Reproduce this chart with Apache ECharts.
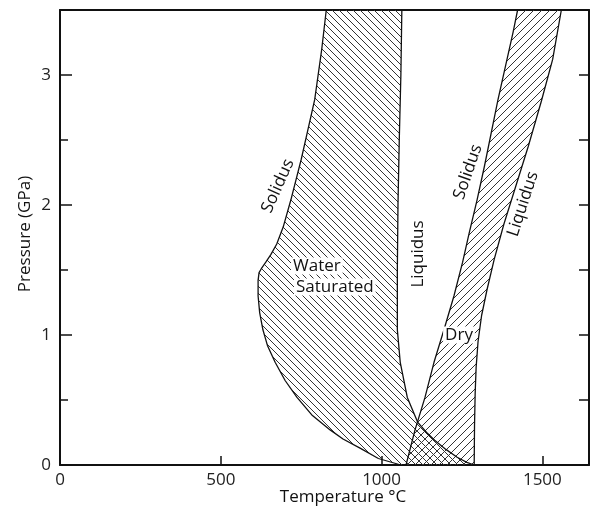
<!DOCTYPE html>
<html><head><meta charset="utf-8">
<script src="https://cdn.jsdelivr.net/npm/echarts@6/dist/echarts.min.js"></script>
<style>html,body{margin:0;padding:0;background:#fff}#c{width:594px;height:514px}</style>
</head><body><div id="c"></div><script>
// Tick values
const xTicks = [0, 500, 1000, 1500];
const yTicks = [0, 1, 2, 3];
// Curves as [Temperature °C, Pressure GPa]
const wetSolidus = [[1060,0],[990,0.05],[933,0.13],[880,0.2],[840,0.27],[785,0.38],[737,0.52],[700,0.65],[669,0.79],[645,0.92],[631,1.04],[621,1.17],[616,1.3],[616,1.42],[619,1.48],[626,1.51],[640,1.56],[656,1.62],[674,1.7],[694,1.83],[718,2.04],[750,2.35],[771,2.58],[792,2.81],[814,3.2],[828,3.5]];
const wetLiquidus = [[1063,3.5],[1060,3.0],[1055,2.5],[1051,2.0],[1049,1.5],[1049,1.04],[1058,0.79],[1080,0.52],[1112,0.33],[1140,0.25],[1165,0.19],[1200,0.12],[1235,0.06],[1265,0.02],[1288,0]];
const drySolidus = [[1076,0],[1104,0.27],[1135,0.52],[1163,0.79],[1194,1.04],[1225,1.3],[1252,1.56],[1272,1.78],[1297,2.04],[1320,2.3],[1362,2.81],[1409,3.33],[1423,3.5]];
const dryLiquidus = [[1288,0],[1289,0.3],[1291,0.55],[1294,0.75],[1300,0.95],[1311,1.15],[1328,1.35],[1350,1.58],[1380,1.85],[1418,2.15],[1456,2.45],[1497,2.8],[1532,3.12],[1559,3.5]];

function hatch(size, dir) {
  const c = document.createElement('canvas');
  c.width = c.height = size;
  const g = c.getContext('2d');
  g.strokeStyle = '#333';
  g.lineWidth = 1;
  g.beginPath();
  for (const o of [-size, 0, size]) {
    if (dir === 'back') { g.moveTo(o, 0); g.lineTo(o + size, size); }
    else { g.moveTo(o, size); g.lineTo(o + size, 0); }
  }
  g.stroke();
  return c;
}
const wetPattern = hatch(7, 'back');
const dryPattern = hatch(8, 'fwd');

const wetPoly = wetSolidus.concat(wetLiquidus);
const dryPoly = drySolidus.concat(dryLiquidus.slice().reverse());

function region(poly, img) {
  return {
    type: 'custom', coordinateSystem: 'cartesian2d', clip: true, silent: true, z: 1,
    data: [[0, 0]],
    renderItem: (params, api) => ({
      type: 'polygon',
      shape: { points: poly.map(p => api.coord(p)) },
      style: { fill: { image: img, repeat: 'repeat' }, stroke: null }
    })
  };
}
function curve(data) {
  return { type: 'line', data: data, showSymbol: false, silent: true, z: 3, clip: true,
    lineStyle: { color: '#111', width: 1.3 } };
}

const FONT = '"Open Sans", sans-serif';
const chart = echarts.init(document.getElementById('c'), null, { renderer: 'canvas' });
function txt(text, x, y, rotDeg, opts) {
  opts = opts || {};
  return {
    type: 'text', x: x, y: y, rotation: (rotDeg || 0) * Math.PI / 180, z: 100,
    style: Object.assign({
      text: text, font: (opts.size || 17) + 'px ' + FONT, fill: '#111',
      align: opts.align || 'center', textAlign: opts.align || 'center',
      verticalAlign: 'middle', textVerticalAlign: 'middle'
    }, opts.bg ? { backgroundColor: '#fff', padding: [0, 2, 0, 2] } : {})
  };
}

chart.setOption({
  animation: false,
  backgroundColor: '#fff',
  grid: { left: 60, right: 5, top: 10, bottom: 49, containLabel: false },
  xAxis: [
    { type: 'value', position: 'bottom', min: 0, max: 1645, interval: 500,
      axisLine: { show: true, onZero: false, lineStyle: { color: '#111', width: 2 } },
      axisTick: { show: true, inside: true, length: 9, lineStyle: { color: '#111', width: 1.5 } },
      axisLabel: { margin: 7, color: '#222', fontSize: 17, fontFamily: FONT,
        formatter: v => xTicks.includes(v) ? String(v) : '' },
      splitLine: { show: false } },
    { type: 'value', position: 'top', min: 0, max: 1645,
      axisLine: { show: true, onZero: false, lineStyle: { color: '#111', width: 2 } },
      axisTick: { show: false }, axisLabel: { show: false }, splitLine: { show: false } }
  ],
  yAxis: [
    { type: 'value', position: 'left', min: 0, max: 3.5, interval: 1,
      axisLine: { show: true, onZero: false, lineStyle: { color: '#111', width: 2 } },
      axisTick: { show: true, inside: true, length: 12, lineStyle: { color: '#111', width: 1.5 } },
      minorTick: { show: true, splitNumber: 2, length: 8, lineStyle: { color: '#111', width: 1.5 } },
      axisLabel: { margin: 9, color: '#222', fontSize: 17, fontFamily: FONT,
        formatter: v => yTicks.includes(v) ? String(v) : '' },
      splitLine: { show: false }, minorSplitLine: { show: false } },
    { type: 'value', position: 'right', min: 0, max: 3.5, interval: 0.5,
      axisLine: { show: true, onZero: false, lineStyle: { color: '#111', width: 2 } },
      axisTick: { show: true, inside: true, length: 10, lineStyle: { color: '#111', width: 1.5 } },
      axisLabel: { show: false }, splitLine: { show: false } }
  ],
  series: [
    region(wetPoly, wetPattern),
    region(dryPoly, dryPattern),
    curve(wetSolidus), curve(wetLiquidus), curve(drySolidus), curve(dryLiquidus)
  ],
  graphic: [
    txt('Pressure (GPa)', 25, 234, 90, { size: 17 }),
    txt('Temperature °C', 343, 497, 0, { size: 17 }),
    txt('Solidus', 278, 186, 66),
    txt('Liquidus', 418, 254, 90),
    txt('Water', 291, 266, 0, { align: 'left', bg: true }),
    txt('Saturated', 294, 287, 0, { align: 'left', bg: true }),
    txt('Solidus', 468, 172, 71),
    txt('Liquidus', 523, 204, 72),
    txt('Dry', 459, 335, 0, { bg: true })
  ]
});
</script></body></html>
